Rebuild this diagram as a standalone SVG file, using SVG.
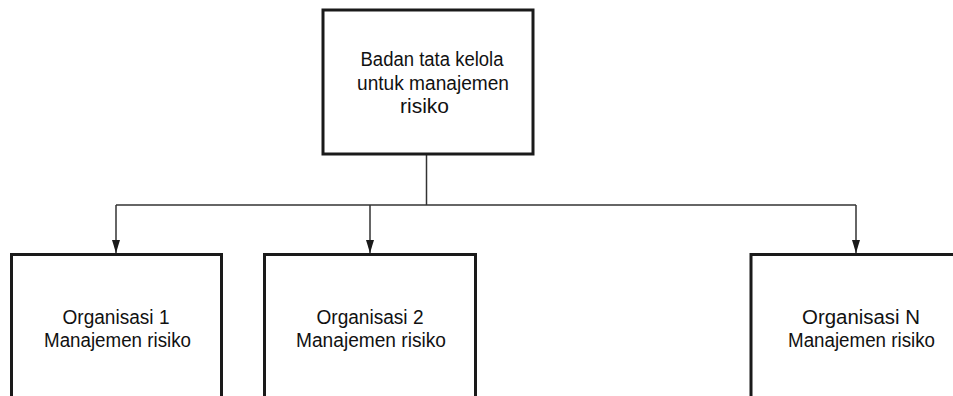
<svg xmlns="http://www.w3.org/2000/svg" width="953" height="396" viewBox="0 0 953 396">
  <style>
    .box { fill: #ffffff; stroke: #1a1a1a; stroke-width: 3; }
    .link { fill: none; stroke: #333333; stroke-width: 1.5; }
    .label { font-family: "Liberation Sans", Arial, sans-serif; font-size: 20px; fill: #111111; text-anchor: middle; }
  </style>
  <defs>
    <marker id="arrow" markerWidth="13" markerHeight="8" refX="13" refY="4" orient="auto" markerUnits="userSpaceOnUse" viewBox="0 0 13 8">
      <path d="M0,0 L13,4 L0,8 Z" fill="#1a1a1a"/>
    </marker>
  </defs>

  <rect width="953" height="396" fill="#ffffff"/>

  <!-- connectors: trunk from the governance body, bus, and drops to each organisation -->
  <g id="connectors">
    <path class="link" d="M426.5,155 V205"/>
    <path class="link" d="M116,205 H856"/>
    <path class="link" d="M116,205 V253" marker-end="url(#arrow)"/>
    <path class="link" d="M370,205 V253" marker-end="url(#arrow)"/>
    <path class="link" d="M856,205 V253" marker-end="url(#arrow)"/>
  </g>

  <g id="governance">
    <rect class="box" x="323" y="10" width="210" height="144"/>
    <text class="label" x="432" y="66" textLength="143" lengthAdjust="spacingAndGlyphs">Badan tata kelola</text>
    <text class="label" x="433" y="90" textLength="152" lengthAdjust="spacingAndGlyphs">untuk manajemen</text>
    <text class="label" x="424.5" y="113" textLength="49" lengthAdjust="spacingAndGlyphs">risiko</text>
  </g>

  <g id="org1">
    <rect class="box" x="11.5" y="254.5" width="210" height="160"/>
    <text class="label" x="116" y="324" textLength="107" lengthAdjust="spacingAndGlyphs">Organisasi 1</text>
    <text class="label" x="117.5" y="347" textLength="147" lengthAdjust="spacingAndGlyphs">Manajemen risiko</text>
  </g>

  <g id="org2">
    <rect class="box" x="264.5" y="254.5" width="211" height="160"/>
    <text class="label" x="370" y="323.5" textLength="107" lengthAdjust="spacingAndGlyphs">Organisasi 2</text>
    <text class="label" x="371" y="346.5" textLength="150" lengthAdjust="spacingAndGlyphs">Manajemen risiko</text>
  </g>

  <g id="orgN">
    <rect class="box" x="751" y="254.5" width="230" height="160"/>
    <text class="label" x="861" y="324" textLength="118" lengthAdjust="spacingAndGlyphs">Organisasi N</text>
    <text class="label" x="861.5" y="347" textLength="147" lengthAdjust="spacingAndGlyphs">Manajemen risiko</text>
  </g>
</svg>
